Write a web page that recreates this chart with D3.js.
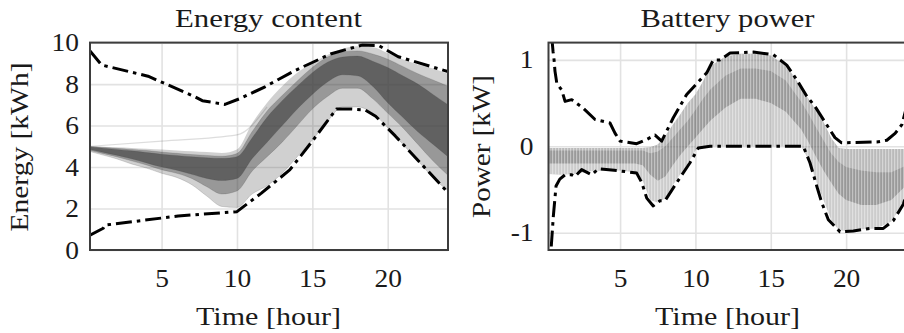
<!DOCTYPE html>
<html><head><meta charset="utf-8">
<script src="https://cdn.jsdelivr.net/npm/d3@7"></script>
<style>
body{margin:0;background:#fff}
svg{display:block}
text{font-family:"Liberation Serif","Times New Roman",serif;fill:#1a1a1a}
</style>
</head><body>
<svg id="c" width="904" height="333"></svg>
<script>
// ---------- Energy content panel ----------
const tE   = [0.25,1,2,3,4,5,6,7,8,9,10,11,12,13,14,15,16,17,18,19,20,21,22,23,24];
const eMin = [4.75,4.6,4.4,4.15,3.95,3.7,3.5,3.15,2.6,2.1,2.05,2.7,3.1,3.7,4.5,5.3,6.2,6.9,6.9,6.6,5.9,5.1,4.3,3.5,2.85];
const e10  = [4.8,4.67,4.5,4.3,4.1,3.87,3.7,3.45,3.05,2.7,2.85,3.8,4.5,5.2,6.0,6.8,7.4,7.8,7.8,7.3,6.6,5.9,5.1,4.3,3.6];
const e25  = [4.85,4.73,4.57,4.4,4.2,4.0,3.85,3.65,3.45,3.35,3.45,4.4,5.2,6.0,6.8,7.5,8.1,8.45,8.4,7.9,7.1,6.4,5.7,5.1,4.5];
const e75  = [4.97,4.92,4.85,4.78,4.7,4.62,4.56,4.5,4.45,4.42,4.5,5.4,6.4,7.2,7.9,8.55,9.05,9.3,9.35,9.1,8.8,8.4,8.0,7.5,7.0];
const e90  = [4.99,4.96,4.9,4.85,4.8,4.72,4.66,4.6,4.56,4.52,4.65,5.7,6.7,7.45,8.15,8.8,9.3,9.55,9.6,9.45,9.2,8.85,8.5,8.2,7.9];
const eMax = [5.0,4.98,4.95,4.92,4.88,4.84,4.8,4.76,4.72,4.68,4.85,6.1,7.1,7.9,8.55,9.0,9.4,9.7,9.82,9.78,9.5,9.2,8.95,8.75,8.5];
const eOutT = [0.25,5,10,12];
const eOut  = [5.0,5.25,5.55,6.9];
const eUpT = [0.25,1.02,4.1,7.2,7.7,9.2,10.2,11.86,13.7,16.2,18.3,19.4,20.7,24];
const eUp  = [9.6,8.92,8.38,7.39,7.2,7.02,7.3,7.87,8.6,9.45,9.88,9.86,9.32,8.6];
const eLoT = [0.25,1.13,1.25,6.1,10.0,11.6,13.5,15.0,16.6,17.5,18.5,19.2,20.5,24];
const eLo  = [0.72,1.05,1.2,1.64,1.85,2.73,3.86,5.25,6.8,6.8,6.75,6.45,5.5,2.77];
const eYTicks = [0,2,4,6,8,10];

// ---------- Battery power panel ----------
const tP   = [0.25,1,2,3,4,5,6,6.5,7,7.5,8,8.5,9,9.5,10,10.5,11,12,13,14,15,16,16.5,17,17.5,18,18.5,19,19.5,20,21,22,23,24];
const pMax = [-0.02,-0.02,-0.02,-0.02,-0.02,-0.02,-0.02,-0.02,-0.01,0.02,0.12,0.25,0.37,0.5,0.6,0.75,0.93,1.04,1.07,1.07,1.05,0.93,0.82,0.68,0.55,0.42,0.28,0.1,-0.02,-0.03,-0.03,-0.03,-0.03,-0.03];
const p75  = [-0.05,-0.05,-0.05,-0.05,-0.05,-0.05,-0.05,-0.05,-0.08,-0.06,0.0,0.1,0.2,0.3,0.42,0.55,0.66,0.82,0.9,0.9,0.87,0.76,0.64,0.52,0.38,0.22,0.07,-0.08,-0.18,-0.24,-0.28,-0.3,-0.3,-0.22];
const p25  = [-0.2,-0.2,-0.2,-0.2,-0.2,-0.2,-0.2,-0.22,-0.33,-0.4,-0.35,-0.22,-0.1,0.0,0.1,0.2,0.3,0.45,0.55,0.55,0.5,0.4,0.3,0.2,0.05,-0.12,-0.28,-0.42,-0.55,-0.62,-0.68,-0.68,-0.62,-0.45];
const pMin = [-0.32,-0.33,-0.32,-0.29,-0.28,-0.28,-0.3,-0.4,-0.62,-0.65,-0.6,-0.45,-0.32,-0.2,-0.05,0.0,0.0,0.0,0.0,0.0,0.0,0.0,0.0,0.0,-0.15,-0.4,-0.62,-0.85,-0.97,-0.98,-0.96,-0.95,-0.87,-0.6];
const pUpT = [0.3,0.55,0.62,0.68,0.8,1.13,1.35,1.79,2.56,3.34,4.33,4.67,5.0,6.1,6.77,7.32,7.76,8.53,9.42,10.75,11.19,11.64,12.3,13.84,15.17,16.06,16.72,17.39,17.94,18.71,19.26,19.7,22.03,22.7,23.25,23.7,24];
const pUp  = [1.6,1.1,1.0,0.87,0.73,0.65,0.52,0.54,0.44,0.31,0.27,0.15,0.06,0.03,0.08,0.13,0.06,0.33,0.6,0.85,1.0,1.0,1.08,1.09,1.06,0.94,0.77,0.58,0.46,0.25,0.1,0.04,0.05,0.07,0.15,0.25,0.45];
const pLoT = [0.3,0.57,0.75,1.0,1.35,1.79,2.0,2.45,3.12,3.56,4.78,6.1,6.44,6.77,7.2,7.65,7.98,8.76,9.64,10.19,10.97,17.16,17.6,18.05,18.38,18.82,19.6,20.48,21.6,22.47,23.13,23.8,24];
const pLo  = [-1.5,-0.81,-0.46,-0.38,-0.33,-0.33,-0.35,-0.27,-0.33,-0.26,-0.28,-0.31,-0.42,-0.6,-0.69,-0.63,-0.63,-0.42,-0.19,-0.02,0,0,-0.19,-0.46,-0.65,-0.85,-0.99,-0.98,-0.95,-0.95,-0.86,-0.67,-0.55];
const pYTicks = [-1,0,1];

const xTicks = [5,10,15,20];
const titles = ["Energy content","Battery power"];
const yLabels = ["Energy [kWh]","Power [kW]"];
const xLabel = "Time [hour]";

// ---------- drawing ----------
const svg = d3.select("#c");
const FS = 24.5;
const FONT = "'Liberation Serif', 'Times New Roman', serif";
const defs = svg.append("defs");
const pat = defs.append("pattern").attr("id","stripes").attr("patternUnits","userSpaceOnUse")
  .attr("width",3).attr("height",8);
pat.append("rect").attr("x",0).attr("y",0).attr("width",1.2).attr("height",8).attr("fill","#ffffff").attr("opacity",0.4);

function stretch(sel, k){
  sel.each(function(){
    const w = this.getComputedTextLength();
    this.setAttribute("textLength", w*k);
    this.setAttribute("lengthAdjust","spacingAndGlyphs");
  });
}

function panel(cfg){
  const {id, x, y, yTicks, left, top, bottom, right} = cfg;
  const g = svg.append("g");
  defs.append("clipPath").attr("id","clip"+id).append("rect")
    .attr("x",left).attr("y",top).attr("width",right-left).attr("height",bottom-top);
  const gx = g.append("g").attr("transform",`translate(0,${bottom})`)
    .call(d3.axisBottom(x).tickValues(xTicks).tickSize(-(bottom-top)).tickFormat(""));
  const gy = g.append("g").attr("transform",`translate(${left},0)`)
    .call(d3.axisLeft(y).tickValues(yTicks).tickSize(-(right-left)).tickFormat(""));
  [gx,gy].forEach(a=>{a.select(".domain").remove();a.selectAll("line").attr("stroke","#e2e2e2").attr("stroke-width",1.6);});
  const plot = g.append("g").attr("clip-path",`url(#clip${id})`);
  cfg.drawBands(plot);
  const dash = d3.line().x(d=>x(d[0])).y(d=>y(d[1]));
  cfg.bounds.forEach(b=>{
    plot.append("path").attr("d",dash(d3.zip(b[0],b[1])))
      .attr("fill","none").attr("stroke","#000").attr("stroke-width",3)
      .attr("stroke-dasharray","16,5,3.5,5").attr("stroke-linejoin","round");
  });
  g.append("rect").attr("x",left).attr("y",top).attr("width",right-left).attr("height",bottom-top)
    .attr("fill","none").attr("stroke","#3d3d3d").attr("stroke-width",2);
  const ax = g.append("g").attr("transform",`translate(0,${bottom})`)
    .call(d3.axisBottom(x).tickValues(xTicks).tickSize(0));
  ax.attr("font-family",FONT);
  ax.select(".domain").remove();
  ax.selectAll("text").attr("y",37).attr("dy",0).attr("font-size",FS).attr("fill","#1a1a1a");
  stretch(ax.selectAll("text"),1.12);
  const ay = g.append("g").attr("transform",`translate(${left},0)`)
    .call(d3.axisLeft(y).tickValues(yTicks).tickSize(0).tickPadding(cfg.yPad)
      .tickFormat(d=> d<0 ? "-"+Math.abs(d) : String(d)));
  ay.attr("font-family",FONT);
  ay.select(".domain").remove();
  ay.selectAll("text").attr("font-size",FS).attr("fill","#1a1a1a").attr("dy","0.33em");
  stretch(ay.selectAll("text"),1.12);
  g.append("text").attr("x",cfg.cx).attr("y",27).attr("text-anchor","middle").attr("font-size",FS)
    .attr("textLength",cfg.titleLen).attr("lengthAdjust","spacingAndGlyphs").text(cfg.title);
  g.append("text").attr("x",cfg.cx).attr("y",325).attr("text-anchor","middle").attr("font-size",FS)
    .attr("textLength",145).attr("lengthAdjust","spacingAndGlyphs").text(xLabel);
  g.append("text").attr("transform",`translate(${cfg.ylx},${cfg.yly}) rotate(-90)`)
    .attr("text-anchor","middle").attr("font-size",FS)
    .attr("textLength",cfg.ylLen).attr("lengthAdjust","spacingAndGlyphs").text(cfg.ylabel);
}

const curve = d3.curveMonotoneX;

// Energy
const xE = d3.scaleLinear().domain([0.25,24]).range([90,448]);
const yE = d3.scaleLinear().domain([0,10]).range([250,42.6]);
panel({
  id:"E", x:xE, y:yE, yTicks:eYTicks, left:90, right:448, top:42.6, bottom:250, yPad:11,
  cx:268.5, title:titles[0], titleLen:187, ylabel:yLabels[0], ylx:28, yly:147, ylLen:169,
  bounds:[[eUpT,eUp],[eLoT,eLo]],
  drawBands(p){
    const band=(lo,hi,op,fill)=>{
      const a=d3.area().curve(curve).x((d,i)=>xE(tE[i])).y0((d,i)=>yE(lo[i])).y1((d,i)=>yE(hi[i]));
      p.append("path").attr("d",a(tE)).attr("fill",fill).attr("opacity",op);
    };
    band(eMin,eMax,0.25,"#444");
    band(e10,e90,0.4,"#444");
    band(e25,e75,0.65,"#444");
    const ln=d3.line().curve(curve).x(d=>xE(d[0])).y(d=>yE(d[1]));
    p.append("path").attr("d",ln(d3.zip(eOutT,eOut))).attr("fill","none").attr("stroke","#555").attr("stroke-opacity",0.2).attr("stroke-width",1.2);
    [eMin,e10,e25,e75,e90].forEach(s=>{
      p.append("path").attr("d",ln(d3.zip(tE,s))).attr("fill","none").attr("stroke","#444").attr("stroke-opacity",0.18).attr("stroke-width",1);
    });
  }
});

// Power
const xP = d3.scaleLinear().domain([0.25,24]).range([548.5,906.4]);
const yP = d3.scaleLinear().domain([-1.2,1.2]).range([250,42.6]);
panel({
  id:"P", x:xP, y:yP, yTicks:pYTicks, left:548.5, right:906.4, top:42.6, bottom:250, yPad:15,
  cx:727.5, title:titles[1], titleLen:174, ylabel:yLabels[1], ylx:490, yly:146.5, ylLen:143,
  bounds:[[pUpT,pUp],[pLoT,pLo]],
  drawBands(p){
    const band=(lo,hi,op,fill)=>{
      const a=d3.area().x((d,i)=>xP(tP[i])).y0((d,i)=>yP(lo[i])).y1((d,i)=>yP(hi[i]));
      p.append("path").attr("d",a(tP)).attr("fill",fill).attr("opacity",op);
    };
    band(pMin,pMax,0.3,"#555");
    band(p25,p75,0.42,"#555");
    band(p75,pMax,0.15,"#555");
    band(pMin,pMax,1,"url(#stripes)");
  }
});
</script>
</body></html>
